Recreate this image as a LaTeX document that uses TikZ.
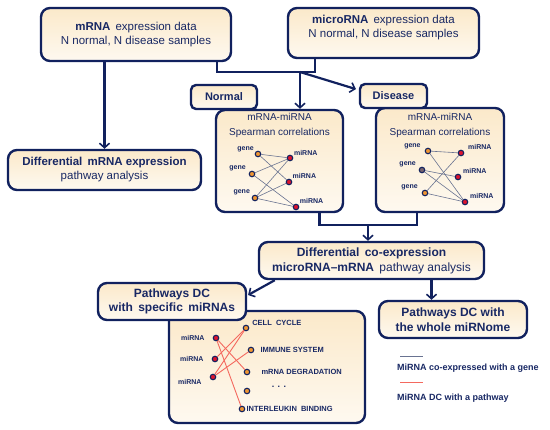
\documentclass[tikz,border=0pt]{standalone}
\usepackage{fontspec}
\setmainfont{Liberation Sans}
\usetikzlibrary{arrows.meta, positioning, calc}
\definecolor{navy}{RGB}{17,33,94}
\definecolor{ink}{RGB}{24,40,100}
\definecolor{cream}{RGB}{251,233,202}
\definecolor{creamlt}{RGB}{254,249,240}
\definecolor{edgegray}{RGB}{105,115,145}
\definecolor{dcred}{RGB}{244,105,95}
\definecolor{dotorange}{RGB}{240,150,50}
\definecolor{dotred}{RGB}{222,20,45}
\definecolor{dotgray}{RGB}{120,100,110}
\tikzset{
    panel/.style={rectangle, rounded corners=9pt, draw=navy, line width=2.4pt, top color=cream, bottom color=creamlt, text=ink, align=center, inner sep=2pt},
    tag/.style={panel, rounded corners=5pt, font=\bfseries\fontsize{11}{13}\selectfont},
    gnode/.style={circle, draw=navy, line width=1.1pt, fill=dotorange, inner sep=0pt, minimum size=5.5pt},
    mnode/.style={gnode, fill=dotred},
    lbl/.style={font=\bfseries\fontsize{7}{8}\selectfont, text=ink, inner sep=1pt},
    pwlbl/.style={font=\bfseries\fontsize{7.5}{9}\selectfont, text=ink, inner sep=1pt},
    legtxt/.style={font=\bfseries\fontsize{9}{11}\selectfont, text=ink, inner sep=0pt},
    coexp/.style={draw=edgegray, line width=0.6pt},
    dcline/.style={draw=dcred, line width=0.9pt},
    link/.style={draw=navy, line width=2.2pt},
    arrowline/.style={link, -{Straight Barb[length=4.5pt,width=10pt,line width=1.6pt]}}
}
\begin{document}
\begin{tikzpicture}[x=1pt, y=-1pt]
  \useasboundingbox (0,0) rectangle (550,430);
  % input data
  \node[panel, minimum width=190pt, minimum height=53pt, font=\fontsize{11.5}{14}\selectfont] (mrna) at (136,34.5) {{\bfseries mRNA}\, expression data\\N normal, N disease samples};
  \node[panel, minimum width=191pt, minimum height=50pt, font=\fontsize{11.5}{14}\selectfont] (mirna) at (383.5,33) {{\bfseries microRNA}\, expression data\\N normal, N disease samples\\\mbox{}};
  \node[panel, minimum width=193pt, minimum height=40pt, font=\fontsize{11.5}{14}\selectfont] (diff) at (104.5,170) {{\bfseries Differential\, mRNA expression}\\pathway analysis};
  % correlation networks
  \node[panel, minimum width=127pt, minimum height=102pt] (netN) at (279.5,161) {};
  \node[align=center, anchor=north, inner sep=0pt, text=ink, font=\fontsize{10}{15}\selectfont] (netNtitle) at ([yshift=-4pt]netN.north) {mRNA-miRNA\\Spearman correlations};
  \node[panel, minimum width=128pt, minimum height=104pt] (netD) at (440,160) {};
  \node[align=center, anchor=north, inner sep=0pt, text=ink, font=\fontsize{10}{15}\selectfont] (netDtitle) at ([yshift=-6pt]netD.north) {mRNA-miRNA\\Spearman correlations};
  \node[tag, minimum width=66pt, minimum height=24pt] (normal) at (224,97) {Normal};
  \node[tag, minimum width=67pt, minimum height=24pt] (disease) at (393.5,96) {Disease};
  % normal network
  \node[gnode, label={[lbl, label distance=0pt]160:gene}] (n1) at (258,154) {};
  \node[gnode, label={[lbl, label distance=2pt]165:gene}] (n2) at (252,174) {};
  \node[gnode, label={[lbl, label distance=1pt]155:gene}] (n3) at (255,198) {};
  \node[mnode, label={[lbl, label distance=0pt]30:miRNA}] (m1) at (290,158) {};
  \node[mnode, label={[lbl, label distance=0pt]40:miRNA}] (m2) at (289,182) {};
  \node[mnode, label={[lbl, label distance=0pt]35:miRNA}] (m3) at (296,207) {};
  \foreach \a/\b in {n1/m1, n1/m2, n2/m1, n2/m3, n3/m1, n3/m2, n3/m3}
    \draw[coexp] (\a) -- (\b);
  % disease network
  \node[gnode, label={[lbl, label distance=3pt]170:gene}] (d1) at (428,151) {};
  \node[gnode, fill=dotgray, label={[lbl, label distance=2pt]160:gene}] (d2) at (422,170) {};
  \node[gnode, label={[lbl, label distance=3pt]165:gene}] (d3) at (425,193) {};
  \node[mnode, label={[lbl, label distance=3pt]20:miRNA}] (dm1) at (461,153) {};
  \node[mnode, label={[lbl, label distance=1pt]25:miRNA}] (dm2) at (458,177) {};
  \node[mnode, label={[lbl, label distance=1pt]25:miRNA}] (dm3) at (465,202) {};
  \foreach \a/\b in {d1/dm1, d1/dm3, d2/dm2, d2/dm3, d3/dm1, d3/dm3}
    \draw[coexp] (\a) -- (\b);
  % DC analysis
  \node[panel, minimum width=225pt, minimum height=37pt, font=\fontsize{12}{15}\selectfont] (dc) at (371.5,260.5) {{\bfseries Differential\, co-expression}\\{\bfseries microRNA--mRNA}\, pathway analysis};
  \node[panel, minimum width=196pt, minimum height=112pt] (pwnet) at (267,367) {};
  \node[panel, minimum width=148pt, minimum height=37pt, font=\bfseries\fontsize{12}{14}\selectfont] (spec) at (172,301.5) {Pathways DC\\with\, specific\, miRNAs};
  \node[panel, minimum width=148pt, minimum height=37pt, font=\bfseries\fontsize{12}{15}\selectfont] (whole) at (453,319.5) {Pathways DC with\\the whole miRNome};
  % pathway network
  \node[mnode, label={[lbl, label distance=7pt]180:miRNA}] (bm1) at (216,338) {};
  \node[mnode, label={[lbl, label distance=7pt]180:miRNA}] (bm2) at (215,359) {};
  \node[mnode, label={[lbl, label distance=7pt]185:miRNA}] (bm3) at (213,377) {};
  \node[gnode, label={[pwlbl, label distance=2pt]15:CELL\ \ CYCLE}] (p1) at (246,328) {};
  \node[gnode, label={[pwlbl, label distance=5pt]0:IMMUNE\ SYSTEM}] (p2) at (251,350) {};
  \node[gnode, label={[pwlbl, label distance=10pt]0:mRNA DEGRADATION}] (p3) at (247,372) {};
  \node[gnode] (p4) at (247,391) {};
  \node[gnode, label={[pwlbl, label distance=0pt]0:INTERLEUKIN\ \ BINDING}] (p5) at (242,409) {};
  \node[font=\bfseries\fontsize{9}{9}\selectfont, text=ink, inner sep=0pt] (dots) at (279,387) {. . .};
  \foreach \a/\b in {bm1/p3, bm1/p5, bm2/p1, bm3/p1, bm3/p2}
    \draw[dcline] (\a) -- (\b);
  % connectors
  \coordinate (split) at (300,72);
  \draw[link] ([xshift=-15pt]mrna.south east) |- (split) -| ([xshift=28pt]mirna.south west);
  \draw[arrowline] (split) -- (split |- netN.north);
  \draw[arrowline, shorten >=3pt] (split) -- ([yshift=6pt]disease.west);
  \draw[arrowline] (diff.north |- mrna.south) -- (diff.north);
  \coordinate (merge) at (368,225);
  \draw[link] ([xshift=40pt]netN.south) |- (merge) -| ([xshift=-23pt]netD.south);
  \draw[arrowline] (merge) -- (merge |- dc.north);
  \draw[arrowline, shorten >=1pt] ([xshift=17pt]dc.south west) -- ([yshift=6pt]spec.east);
  \draw[arrowline] ([xshift=60pt]dc.south) -- ([xshift=60pt]dc.south |- whole.north);
  % legend
  \node[legtxt, anchor=west] (leg1) at (397,368) {MiRNA co-expressed with a gene};
  \node[legtxt, anchor=west] (leg2) at (397,398) {MiRNA DC with a pathway};
  \draw[draw=edgegray, line width=1pt] ([xshift=3pt, yshift=11pt]leg1.west) -- ++(23,0);
  \draw[draw=dcred, line width=1pt] ([xshift=3pt, yshift=15pt]leg2.west) -- ++(23,0);
\end{tikzpicture}
\end{document}
